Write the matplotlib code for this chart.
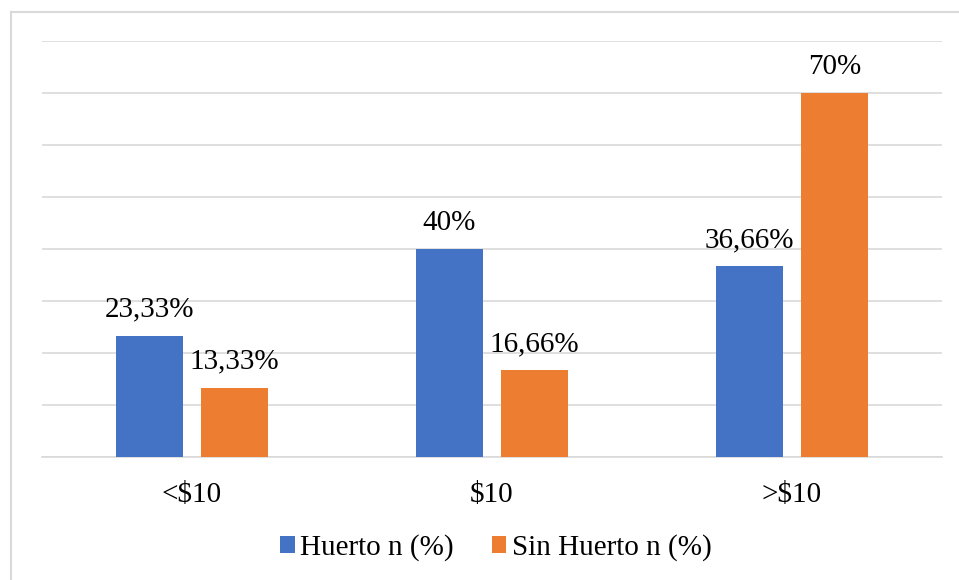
import matplotlib
matplotlib.use("Agg")
import matplotlib.pyplot as plt
import numpy as np
from matplotlib.patches import Patch
from matplotlib.lines import Line2D

categories = ["<$10", "$10", ">$10"]
huerto = [23.33, 40.0, 36.66]
sin_huerto = [13.33, 16.66, 70.0]
huerto_labels = ["23,33%", "40%", "36,66%"]
sin_labels = ["13,33%", "16,66%", "70%"]
series_names = ["Huerto n (%)", "Sin Huerto n (%)"]

plt.rcParams['font.family'] = ['Liberation Serif', 'DejaVu Serif']
BLUE = "#4472C4"
ORANGE = "#ED7D31"
GRID = "#D9D9D9"
FS = 21

fig = plt.figure(figsize=(9.59, 5.80), dpi=100)
ax = fig.add_axes([42/959, 1-457/580, 900/959, (457-41)/580])

x = np.arange(len(categories))
w = 0.223
off = 0.142
b1 = ax.bar(x - off, huerto, w, color=BLUE, zorder=3)
b2 = ax.bar(x + off, sin_huerto, w, color=ORANGE, zorder=3)

for rects, labs in ((b1, huerto_labels), (b2, sin_labels)):
    for r, lab in zip(rects, labs):
        ax.annotate(lab, (r.get_x() + r.get_width()/2, r.get_height()),
                    xytext=(0, 14), textcoords="offset points",
                    ha="center", va="baseline", fontsize=FS, color="#000000")

ax.set_xlim(-0.5, 2.5)
ax.set_ylim(0, 80)
ax.set_yticks(np.arange(0, 81, 10))
ax.yaxis.grid(True, color=GRID, lw=1.2, zorder=0)
ax.tick_params(axis='y', length=0, labelleft=False)
ax.set_xticks(x)
ax.set_xticklabels(categories, fontsize=FS)
ax.tick_params(axis='x', length=0, pad=18)
for s in ("top", "right", "left"):
    ax.spines[s].set_visible(False)
ax.spines["bottom"].set_color(GRID)
ax.spines["bottom"].set_linewidth(1.2)

handles = [Patch(facecolor=BLUE, label=series_names[0]),
           Patch(facecolor=ORANGE, label=series_names[1])]
fig.legend(handles=handles, loc="center", bbox_to_anchor=(496/959, 1-548/580),
           ncol=2, frameon=False, fontsize=FS, handlelength=0.5, handleheight=0.5,
           handletextpad=0.2, columnspacing=1.3)

# outer border (top and left visible)
fig.add_artist(Line2D([11/959, 11/959], [0, 1-12/580], transform=fig.transFigure,
                      color="#D9D9D9", lw=1.5))
fig.add_artist(Line2D([11/959, 1], [1-12/580, 1-12/580], transform=fig.transFigure,
                      color="#D9D9D9", lw=1.5))

fig.savefig("out.png", dpi=100)
